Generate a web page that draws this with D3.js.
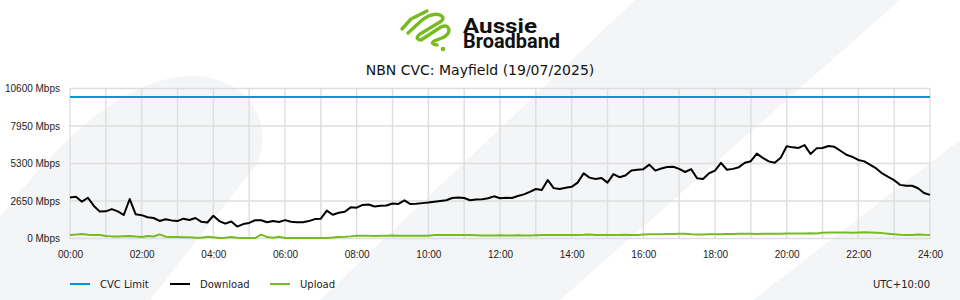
<!DOCTYPE html>
<html>
<head>
<meta charset="utf-8">
<script src="https://cdn.jsdelivr.net/npm/d3@7"></script>
<style>
  html, body { margin: 0; padding: 0; background: #fff; }
  svg { display: block; font-family: 'DejaVu Sans', sans-serif; }
</style>
</head>
<body>
<div id="chart"></div>
<script>
(function () {
  'use strict';

  // chart data, one value every 10 minutes from 00:00 to 24:00 (Mbps)
  var title = 'NBN CVC: Mayfield (19/07/2025)';
  var cvcLimit = 10000;
  var yTicks = [0, 2650, 5300, 7950, 10600];
  var xTickHours = [0, 2, 4, 6, 8, 10, 12, 14, 16, 18, 20, 22, 24];
  var seriesNames = ['CVC Limit', 'Download', 'Upload'];
  var timezoneLabel = 'UTC+10:00';

  var download = [
    2900, 2950, 2600, 2880, 2300, 1900, 1920, 2080, 1920, 1660,
    2790, 1710, 1650, 1500, 1450, 1240, 1360, 1280, 1230, 1400,
    1310, 1450, 1180, 1130, 1610, 1230, 1050, 1200, 840, 1020,
    1100, 1290, 1290, 1150, 1240, 1170, 1300, 1190, 1150, 1150,
    1230, 1370, 1400, 1970, 1680, 1820, 1890, 2200, 2180, 2370,
    2400, 2260, 2320, 2330, 2470, 2440, 2700, 2430, 2450, 2500,
    2540, 2600, 2650, 2700, 2860, 2900, 2860, 2700, 2760, 2770,
    2840, 2980, 2850, 2880, 2860, 3000, 3120, 3300, 3500, 3430,
    4130, 3560, 3500, 3580, 3650, 3950, 4600, 4300, 4200, 4280,
    3950, 4550, 4330, 4450, 4800, 4850, 4900, 5220, 4800, 4950,
    5050, 5070, 4920, 4700, 4900, 4260, 4210, 4610, 4800, 5350,
    4860, 4920, 5040, 5350, 5460, 6000, 5700, 5450, 5350, 5700,
    6520, 6440, 6400, 6600, 5970, 6370, 6400, 6540, 6480, 6200,
    5920, 5770, 5550, 5450, 5200, 4950, 4600, 4350, 4120, 3790,
    3730, 3730, 3550, 3220, 3080
  ];

  var upload = [
    250, 280, 320, 260, 250, 250, 180, 150, 140, 160,
    180, 140, 110, 170, 140, 290, 130, 110, 110, 90,
    80, 60, 60, 130, 90, 40, 60, 100, 60, 40,
    35, 35, 270, 100, 50, 120, 30, 35, 35, 35,
    35, 40, 35, 40, 70, 110, 120, 150, 200, 200,
    190, 170, 200, 200, 210, 200, 190, 200, 200, 200,
    200, 240, 240, 240, 245, 250, 250, 240, 230, 220,
    220, 220, 225, 220, 220, 230, 220, 220, 230, 240,
    250, 250, 250, 250, 245, 250, 260, 290, 250, 240,
    250, 250, 250, 260, 250, 250, 290, 300, 300, 300,
    310, 320, 340, 330, 300, 290, 290, 300, 300, 300,
    310, 320, 340, 330, 330, 320, 340, 330, 340, 340,
    350, 360, 360, 360, 370, 360, 410, 420, 430, 430,
    420, 410, 430, 440, 420, 400, 380, 340, 300, 260,
    250, 250, 290, 260, 250
  ];

  var colors = { cvc: '#0796d8', download: '#000000', upload: '#76bc21' };

  var svg_width = 960;
  var svg_height = 300;
  var margin = { top: 88.5, right: 30, bottom: 61.5, left: 70 };

  var svg = d3.select('#chart').append('svg')
    .attr('width', svg_width)
    .attr('height', svg_height);

  // background swooshes
  var bg = svg.append('g').attr('fill', '#f4f5f7');
  bg.append('path')
    .attr('d', 'M0,217 C55,145 125,74 195,76 C250,78 275,125 256,165 L150,300 L0,300 Z');
  bg.append('path')
    .attr('d', 'M635,0 L900,0 L560,300 L320,300 Z');
  bg.append('path')
    .attr('d', 'M960,140 L960,300 L753,300 Z');

  // logo mark
  var logo = svg.append('g')
    .attr('fill', 'none')
    .attr('stroke', colors.upload)
    .attr('stroke-width', 3.4)
    .attr('stroke-linecap', 'round')
    .attr('stroke-linejoin', 'round');
  logo.append('path').attr('d', 'M402,29 L411,19');
  logo.append('path').attr('d', 'M413,18 L427,11');
  logo.append('path')
    .attr('d', 'M408,33 L421,21 Q432,12 440,15 Q446,18 440,22 L420,34 Q414,39 421,40 ' +
               'L441,27 Q448,24 449,30 Q449,35 442,38 L434,41 Q430,44 437,45');
  svg.append('circle')
    .attr('cx', 443).attr('cy', 49).attr('r', 2.3)
    .attr('fill', colors.upload);

  var brand = svg.append('text')
    .style('font-family', 'Roboto, sans-serif')
    .style('font-weight', 700).style('font-size', '19.5px')
    .style('fill', '#111');
  brand.append('tspan')
    .attr('x', 463).attr('y', 33)
    .attr('textLength', 74).attr('lengthAdjust', 'spacingAndGlyphs')
    .text('Aussie');
  brand.append('tspan')
    .attr('x', 463).attr('y', 48)
    .attr('textLength', 97).attr('lengthAdjust', 'spacingAndGlyphs')
    .text('Broadband');

  // title
  svg.append('text')
    .attr('x', svg_width / 2).attr('y', 75)
    .attr('text-anchor', 'middle')
    .style('font-size', '14px')
    .style('fill', '#111')
    .text(title);

  // scales
  var xScale = d3.scaleLinear().domain([0, 24]).range([margin.left, svg_width - margin.right]);
  var yScale = d3.scaleLinear().domain([0, 10600]).range([svg_height - margin.bottom, margin.top]);

  // grid
  var grid = svg.append('g').attr('stroke', '#dedede').attr('stroke-width', 1.4);
  grid.selectAll('.hgrid')
    .data(yTicks)
    .enter().append('line')
    .attr('x1', xScale(0)).attr('x2', xScale(24))
    .attr('y1', function(d) { return yScale(d); })
    .attr('y2', function(d) { return yScale(d); });
  grid.selectAll('.vgrid')
    .data(d3.range(0, 25))
    .enter().append('line')
    .attr('y1', yScale(0)).attr('y2', yScale(10600))
    .attr('x1', function(d) { return xScale(d); })
    .attr('x2', function(d) { return xScale(d); });

  // axes
  var yAxis = d3.axisLeft(yScale)
    .tickValues(yTicks)
    .tickSize(0)
    .tickPadding(10)
    .tickFormat(function(d) { return d + ' Mbps'; });
  var xAxis = d3.axisBottom(xScale)
    .tickValues(xTickHours)
    .tickSize(0)
    .tickPadding(12)
    .tickFormat(function(d) { return (d < 10 ? '0' : '') + d + ':00'; });

  svg.append('g')
    .attr('class', 'y axis')
    .attr('transform', 'translate(' + margin.left + ',0)')
    .call(yAxis)
    .call(function(g) { g.select('.domain').remove(); })
    .selectAll('text')
      .style('font-size', '10px')
      .style('fill', '#222');

  svg.append('g')
    .attr('class', 'x axis')
    .attr('transform', 'translate(0,' + yScale(0) + ')')
    .call(xAxis)
    .call(function(g) { g.select('.domain').remove(); })
    .selectAll('text')
      .style('font-size', '10px')
      .style('fill', '#222');

  // lines
  var line = d3.line()
    .x(function(d, i) { return xScale(i / 6); })
    .y(function(d) { return yScale(d); });

  svg.append('line')
    .attr('x1', xScale(0)).attr('x2', xScale(24))
    .attr('y1', yScale(cvcLimit)).attr('y2', yScale(cvcLimit))
    .attr('stroke', colors.cvc)
    .attr('stroke-width', 2);

  svg.append('path')
    .datum(upload)
    .attr('d', line)
    .attr('fill', 'none')
    .attr('stroke', colors.upload)
    .attr('stroke-width', 2)
    .attr('stroke-linejoin', 'round');

  svg.append('path')
    .datum(download)
    .attr('d', line)
    .attr('fill', 'none')
    .attr('stroke', colors.download)
    .attr('stroke-width', 2)
    .attr('stroke-linejoin', 'round');

  // legend
  var legendColors = [colors.cvc, colors.download, colors.upload];
  var legend = svg.selectAll('.legend')
    .data(seriesNames)
    .enter().append('g')
    .attr('class', 'legend')
    .attr('transform', function(d, i) { return 'translate(' + (70 + i * 100) + ',284)'; });
  legend.append('line')
    .attr('x1', 0).attr('x2', 20)
    .attr('stroke', function(d, i) { return legendColors[i]; })
    .attr('stroke-width', 2);
  legend.append('text')
    .attr('x', 30).attr('dy', '0.35em')
    .style('font-size', '10px')
    .style('fill', '#222')
    .text(function(d) { return d; });

  svg.append('text')
    .attr('x', xScale(24)).attr('y', 284).attr('dy', '0.35em')
    .attr('text-anchor', 'end')
    .style('font-size', '10px')
    .style('fill', '#222')
    .text(timezoneLabel);
}());
</script>
</body>
</html>
